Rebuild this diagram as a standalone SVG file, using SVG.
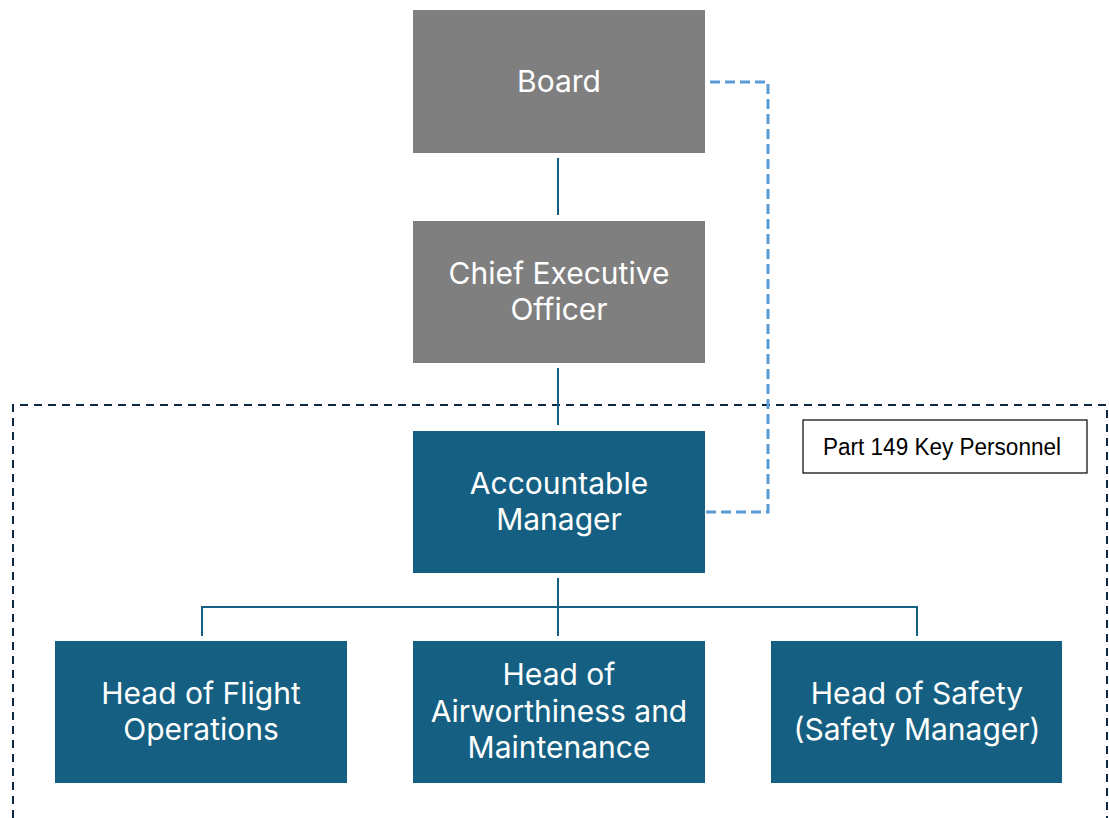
<svg xmlns="http://www.w3.org/2000/svg" width="1109" height="818" viewBox="0 0 1109 818">
<style>
.gray{fill:#7f7f7f}
.blue{fill:#156082}
.t{font-family:Inter,"Open Sans","Liberation Sans",sans-serif;font-size:30px;fill:#fff;text-anchor:middle;dominant-baseline:central}
.conn{stroke:#156082;stroke-width:2;fill:none}
.dash{stroke:#5b9bd5;stroke-width:3;fill:none;stroke-dasharray:10 5}
</style>
<rect width="1109" height="818" fill="#fff"/>
<g id="scope">
<path d="M13 818 V405 H1107 V818" fill="none" stroke="#0e2841" stroke-width="2" stroke-dasharray="8 6"/>
</g>
<g id="label">
<rect x="803" y="420" width="284" height="53" fill="#fff" stroke="#000" stroke-width="1.2"/>
<text x="942" y="447" font-family="Liberation Sans,sans-serif" font-size="23" fill="#000" text-anchor="middle" dominant-baseline="central" textLength="238" lengthAdjust="spacingAndGlyphs">Part 149 Key Personnel</text>
</g>
<g id="connectors">
<path class="conn" d="M558 158 V215"/>
<path class="conn" d="M558 368 V425"/>
<path class="conn" d="M558 578 V636 M202 636 V607 H917 V636"/>
<path class="dash" d="M710 82 H768 V512 H703"/>
</g>
<g id="board"><rect class="gray" x="413" y="10" width="292" height="143"/><text class="t" x="559" y="81">Board</text></g>
<g id="ceo"><rect class="gray" x="413" y="221" width="292" height="142"/><text class="t" x="559" y="273">Chief Executive</text><text class="t" x="559" y="309">Officer</text></g>
<g id="am"><rect class="blue" x="413" y="431" width="292" height="142"/><text class="t" x="559" y="483">Accountable</text><text class="t" x="559" y="519">Manager</text></g>
<g id="hfo"><rect class="blue" x="55" y="641" width="292" height="142"/><text class="t" x="201" y="693">Head of Flight</text><text class="t" x="201" y="729">Operations</text></g>
<g id="ham"><rect class="blue" x="413" y="641" width="292" height="142"/><text class="t" x="559" y="674">Head of</text><text class="t" x="559" y="711">Airworthiness and</text><text class="t" x="559" y="747">Maintenance</text></g>
<g id="hos"><rect class="blue" x="771" y="641" width="291" height="142"/><text class="t" x="917" y="693">Head of Safety</text><text class="t" x="917" y="729">(Safety Manager)</text></g>
</svg>
